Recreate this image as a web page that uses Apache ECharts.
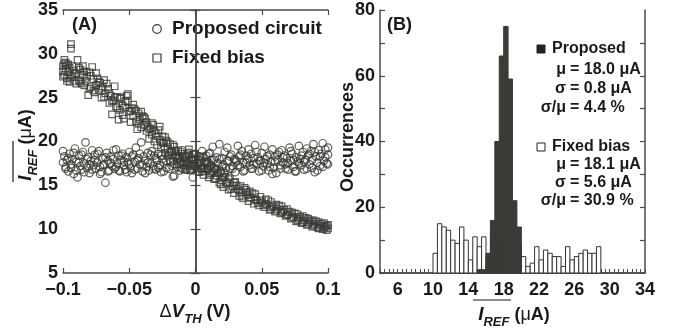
<!DOCTYPE html>
<html><head><meta charset="utf-8">
<script src="https://cdn.jsdelivr.net/npm/echarts@6/dist/echarts.min.js"></script>
<style>html,body{margin:0;padding:0;background:#fff}#c{width:680px;height:329px}</style>
</head><body><div id="c"></div>
<script>
// ---------- Panel A data ----------
const xTickValuesA = [-0.1, -0.05, 0, 0.05, 0.1];
const xTickLabelsA = ['\u22120.1', '\u22120.05', '0', '0.05', '0.1'];
const yTickValuesA = [5, 10, 15, 20, 25, 30, 35];

const proposedPoints = [
[-0.100,17.6],[-0.099,18.3],[-0.098,17.1],[-0.097,17.9],[-0.096,16.6],[-0.095,18.6],[-0.094,17.4],[-0.093,18.0],[-0.092,16.3],[-0.091,19.2],
[-0.090,17.7],[-0.089,15.9],[-0.088,18.4],[-0.087,17.2],[-0.086,16.8],[-0.085,18.8],[-0.084,17.5],[-0.083,19.9],[-0.082,17.0],[-0.081,18.2],
[-0.080,16.4],[-0.079,17.8],[-0.078,19.0],[-0.077,17.3],[-0.076,18.5],[-0.075,16.9],[-0.074,17.6],[-0.073,18.9],[-0.072,17.1],[-0.071,16.5],
[-0.070,18.1],[-0.069,17.4],[-0.068,15.3],[-0.067,18.7],[-0.066,17.8],[-0.065,16.7],[-0.064,18.3],[-0.063,17.2],[-0.062,18.0],[-0.061,16.9],
[-0.060,19.1],[-0.059,17.5],[-0.058,18.4],[-0.057,16.6],[-0.056,17.9],[-0.055,18.6],[-0.054,17.3],[-0.053,16.8],[-0.052,18.2],[-0.051,17.6],
[-0.050,18.8],[-0.049,17.0],[-0.048,16.4],[-0.047,18.5],[-0.046,17.7],[-0.045,19.3],[-0.044,16.9],[-0.043,18.1],[-0.042,17.4],[-0.041,19.9],
[-0.040,16.6],[-0.039,18.3],[-0.038,17.8],[-0.037,17.1],[-0.036,18.7],[-0.035,16.7],[-0.034,17.5],[-0.033,18.9],[-0.032,17.2],[-0.031,18.4],
[-0.030,16.8],[-0.029,17.9],[-0.028,18.6],[-0.027,17.3],[-0.026,16.5],[-0.025,18.0],[-0.024,17.6],[-0.023,19.2],[-0.022,17.0],[-0.021,18.3],
[-0.020,16.9],[-0.019,17.7],[-0.018,18.8],[-0.017,16.0],[-0.016,17.4],[-0.015,18.5],[-0.014,17.1],[-0.013,18.1],[-0.012,16.7],[-0.011,17.8],
[-0.010,19.0],[-0.009,17.3],[-0.008,18.4],[-0.007,16.8],[-0.006,17.6],[-0.005,18.7],[-0.004,17.2],[-0.003,18.2],[-0.002,15.9],[-0.001,17.9],
[0.000,18.6],[0.001,17.5],[0.002,16.6],[0.003,18.3],[0.004,17.8],[0.005,18.9],[0.006,17.0],[0.007,17.7],[0.008,18.4],[0.009,16.9],
[0.010,17.6],[0.011,18.7],[0.012,17.3],[0.013,19.4],[0.014,17.9],[0.015,16.8],[0.016,18.2],[0.017,17.5],[0.018,19.7],[0.019,16.6],
[0.020,18.1],[0.021,17.4],[0.022,18.8],[0.023,17.0],[0.024,19.3],[0.025,17.8],[0.026,16.9],[0.027,18.5],[0.028,17.2],[0.029,18.0],
[0.030,16.5],[0.031,17.7],[0.032,19.5],[0.033,18.3],[0.034,17.1],[0.035,18.9],[0.036,17.6],[0.037,16.7],[0.038,18.4],[0.039,17.9],
[0.040,19.1],[0.041,17.3],[0.042,18.6],[0.043,16.9],[0.044,18.1],[0.045,19.6],[0.046,17.5],[0.047,18.2],[0.048,16.6],[0.049,17.8],
[0.050,18.7],[0.051,17.2],[0.052,19.4],[0.053,18.0],[0.054,17.4],[0.055,16.7],[0.056,18.5],[0.057,17.7],[0.058,19.1],[0.059,17.0],
[0.060,18.3],[0.061,16.4],[0.062,17.9],[0.063,18.8],[0.064,17.3],[0.065,19.0],[0.066,17.6],[0.067,18.4],[0.068,16.9],[0.069,18.1],
[0.070,17.5],[0.071,19.3],[0.072,17.8],[0.073,18.6],[0.074,17.1],[0.075,16.6],[0.076,18.2],[0.077,17.7],[0.078,19.5],[0.079,18.0],
[0.080,17.3],[0.081,18.8],[0.082,16.8],[0.083,17.9],[0.084,19.2],[0.085,18.4],[0.086,17.4],[0.087,18.9],[0.088,17.0],[0.089,19.7],
[0.090,16.5],[0.091,18.3],[0.092,17.6],[0.093,19.0],[0.094,17.2],[0.095,18.6],[0.096,19.8],[0.097,17.8],[0.098,18.2],[0.099,17.5],
[0.100,18.5],[0.100,19.3],
[-0.100,18.9],[-0.098,16.9],[-0.096,18.1],[-0.094,17.0],[-0.092,18.7],[-0.090,16.7],[-0.088,17.6],[-0.086,18.5],[-0.084,16.5],[-0.082,18.0],
[-0.080,17.4],[-0.078,16.8],[-0.076,17.9],[-0.074,18.6],[-0.072,16.3],[-0.070,17.3],[-0.068,18.2],[-0.066,16.6],[-0.064,17.5],[-0.062,19.0],
[-0.060,17.1],[-0.058,16.7],[-0.056,18.4],[-0.054,17.7],[-0.052,16.5],[-0.050,17.4],[-0.048,18.3],[-0.046,16.8],[-0.044,17.9],[-0.042,18.6],
[-0.040,17.3],[-0.038,16.4],[-0.036,17.6],[-0.034,18.5],[-0.032,16.9],[-0.030,18.1],[-0.028,17.0],[-0.026,18.4],[-0.024,16.6],[-0.022,17.8],
[-0.020,18.7],[-0.018,17.2],[-0.016,16.1],[-0.014,18.0],[-0.012,17.5],[-0.010,16.9],[-0.008,17.8],[-0.006,18.5],[-0.004,16.8],[-0.002,17.4],
[0.000,17.1],[0.002,18.0],[0.004,16.9],[0.006,18.2],[0.008,17.4],[0.010,18.6],[0.012,17.9],[0.014,17.0],[0.016,16.8],[0.018,18.0],
[0.020,17.1],[0.022,16.4],[0.024,17.8],[0.026,18.3],[0.028,16.9],[0.030,17.9],[0.032,17.3],[0.034,18.5],[0.036,16.6],[0.038,17.6],
[0.040,18.1],[0.042,16.9],[0.044,17.4],[0.046,18.8],[0.048,17.8],[0.050,16.7],[0.052,17.6],[0.054,18.3],[0.056,17.1],[0.058,16.3],
[0.060,17.7],[0.062,18.5],[0.064,16.9],[0.066,18.2],[0.068,17.4],[0.070,16.8],[0.072,18.9],[0.074,17.9],[0.076,16.6],[0.078,17.5],
[0.080,18.4],[0.082,17.7],[0.084,16.9],[0.086,18.6],[0.088,17.9],[0.090,18.8],[0.092,16.7],[0.094,18.3],[0.096,17.1],[0.098,19.1],[0.100,17.4]
];

const fixedPoints = [
[-0.100,28.6],[-0.100,28.0],[-0.099,28.9],[-0.099,27.6],[-0.098,28.3],[-0.098,29.0],[-0.097,27.2],[-0.097,28.7],[-0.096,27.9],[-0.095,26.8],
[-0.095,28.4],[-0.094,31.1],[-0.094,30.6],[-0.093,27.5],[-0.092,28.1],[-0.091,26.9],[-0.090,27.8],[-0.089,29.3],[-0.088,27.0],[-0.087,28.2],
[-0.086,26.6],[-0.085,27.6],[-0.084,28.0],[-0.083,26.9],[-0.082,27.4],[-0.081,25.3],[-0.080,27.9],[-0.079,26.2],[-0.078,28.5],[-0.077,27.1],
[-0.076,25.6],[-0.075,26.4],[-0.074,27.2],[-0.073,25.9],[-0.072,26.7],[-0.071,25.0],[-0.070,26.3],[-0.069,27.0],[-0.068,25.5],[-0.066,26.0],
[-0.065,24.4],[-0.064,25.2],[-0.063,23.1],[-0.062,24.7],[-0.061,26.3],[-0.060,24.0],[-0.059,25.1],[-0.058,22.5],[-0.057,23.6],[-0.056,25.0],
[-0.055,24.1],[-0.054,22.6],[-0.053,23.9],[-0.052,25.2],[-0.051,24.5],[-0.050,23.4],[-0.049,22.2],[-0.048,23.8],[-0.047,22.9],[-0.046,23.7],
[-0.045,22.3],[-0.044,21.4],[-0.043,23.2],[-0.042,22.5],[-0.041,21.6],[-0.040,22.9],[-0.039,21.9],[-0.038,22.6],[-0.037,21.2],[-0.036,21.7],
[-0.035,20.3],[-0.034,21.5],[-0.033,20.8],[-0.032,21.9],[-0.031,20.0],[-0.030,20.9],[-0.029,19.6],[-0.028,21.3],[-0.027,20.2],[-0.026,19.3],
[-0.025,20.6],[-0.024,19.8],[-0.023,18.7],[-0.022,20.1],[-0.021,19.2],[-0.020,18.4],[-0.019,19.7],[-0.018,18.9],[-0.017,17.8],[-0.016,19.4],
[-0.015,18.3],[-0.014,17.4],[-0.013,19.0],[-0.012,18.1],[-0.011,17.0],[-0.010,18.6],[-0.009,17.6],[-0.008,16.8],[-0.007,18.2],[-0.006,17.3],
[-0.005,19.1],[-0.004,16.7],[-0.003,17.9],[-0.002,18.5],[-0.001,17.2],[0.000,18.0],[0.002,17.5],[0.003,16.5],[0.004,18.3],[0.005,17.0],
[0.006,16.2],[0.008,17.7],[0.009,16.8],[0.010,15.9],[0.011,17.2],[0.012,16.4],[0.014,15.7],[0.015,16.9],[0.016,16.1],[0.018,15.3],
[0.019,16.5],[0.020,15.6],[0.021,14.8],[0.022,16.0],[0.024,15.2],[0.025,14.5],[0.026,15.7],[0.028,14.9],[0.029,14.1],[0.030,15.4],
[0.031,14.6],[0.033,13.8],[0.034,14.9],[0.035,14.2],[0.036,13.5],[0.038,14.5],[0.039,13.9],[0.040,13.2],[0.041,14.3],[0.042,13.6],
[0.044,12.9],[0.045,14.0],[0.046,13.3],[0.048,12.7],[0.049,13.7],[0.050,13.1],[0.052,12.5],[0.053,13.4],[0.054,12.8],[0.056,12.2],
[0.057,13.1],[0.058,12.5],[0.060,12.0],[0.061,12.8],[0.062,12.3],[0.064,11.8],[0.065,12.6],[0.066,12.0],[0.068,11.5],[0.069,12.3],
[0.070,11.7],[0.072,11.2],[0.073,11.9],[0.074,11.4],[0.076,10.9],[0.077,11.7],[0.078,11.2],[0.080,10.7],[0.081,11.5],[0.082,11.0],
[0.084,10.5],[0.085,11.2],[0.086,10.8],[0.088,10.3],[0.089,11.0],[0.090,10.6],[0.092,10.2],[0.093,10.8],[0.094,10.4],[0.096,10.0],
[0.097,10.7],[0.098,10.3],[0.099,9.9],[0.100,10.5],[0.100,10.1],
[-0.100,27.4],[-0.099,29.3],[-0.097,26.9],[-0.096,28.8],[-0.094,27.3],[-0.093,28.6],[-0.091,27.7],[-0.090,26.6],[-0.088,28.4],[-0.087,26.8],
[-0.085,28.6],[-0.084,26.4],[-0.082,27.9],[-0.080,26.0],[-0.079,27.5],[-0.077,25.8],[-0.075,27.8],[-0.073,26.8],[-0.071,26.1],[-0.069,25.1],
[-0.067,26.6],[-0.065,25.5],[-0.063,24.6],[-0.061,25.0],[-0.059,23.8],[-0.057,24.9],[-0.055,23.0],[-0.053,24.6],[-0.051,25.4],[-0.049,23.5],
[-0.047,24.2],[-0.045,23.5],[-0.043,22.0],[-0.041,23.4],[-0.039,22.8],[-0.037,22.2],[-0.035,21.4],[-0.033,22.1],[-0.031,21.2],[-0.029,20.6],
[-0.027,21.7],[-0.025,19.9],[-0.023,20.5],[-0.021,19.9],[-0.019,18.8],[-0.017,19.6],[-0.015,18.9],[-0.013,18.4],[-0.011,18.8],[-0.009,18.3],
[-0.007,17.5],[-0.005,17.8],[-0.003,16.9],[-0.001,18.6],[0.001,16.9],[0.003,17.6],[0.005,16.6],[0.007,16.9],[0.009,17.5],[0.011,16.2],
[0.013,16.6],[0.015,15.8],[0.017,16.4],[0.019,15.1],[0.021,15.9],[0.023,15.4],[0.025,15.9],[0.027,14.6],[0.029,15.3],[0.031,15.0],
[0.033,14.4],[0.035,13.7],[0.037,14.7],[0.039,14.2],[0.041,13.6],[0.043,14.1],[0.045,13.4],[0.047,13.0],[0.049,13.3],[0.051,12.7],
[0.053,12.9],[0.055,13.3],[0.057,12.3],[0.059,12.6],[0.061,12.1],[0.063,12.7],[0.065,11.9],[0.067,12.2],[0.069,11.6],[0.071,12.0],
[0.073,11.3],[0.075,11.8],[0.077,11.0],[0.079,11.4],[0.081,10.8],[0.083,11.3],[0.085,10.6],[0.087,11.0],[0.089,10.4],[0.091,10.9],
[0.093,10.1],[0.095,10.6],[0.097,10.2],[0.099,10.4]
];

// ---------- Panel B data ----------
const binLeft = [4,4.5,5,5.5,6,6.5,7,7.5,8,8.5,9,9.5,10,10.5,11,11.5,12,12.5,13,13.5,14,14.5,15,15.5,16,16.5,17,17.5,18,18.5,19,19.5,
                 20,20.5,21,21.5,22,22.5,23,23.5,24,24.5,25,25.5,26,26.5,27,27.5,28,28.5,29,29.5,30,30.5,31,31.5,32,32.5,33,33.5];
const fixedCounts = [0,0,0,0,0,0,0,0,0,0,0,0,
                     6,15,14,13,10,9,14,10,4,11,8,11,
                     5,12,10,11,10,12,9,9,
                     5,2,3,8,4,7,6,5,5,2,8,4,5,6,7,6,6,8,
                     0,0,0,0,0,0,0,0,0,0];
const proposedCounts = [0,0,0,0,0,0,0,0,0,0,0,0,0,0,0,0,0,0,0,0,0,0,
                        1,1,6,16,40,66,75,59,22,14,
                        0,0,0,0,0,0,0,0,0,0,0,0,0,0,0,0,0,0,0,0,0,0,0,0,0,0,0,0];
const binWidth = 0.5;
const xTickValuesB = [6, 10, 14, 18, 22, 26, 30, 34];
const yTickValuesB = [0, 20, 40, 60, 80];
const yMinorTicksB = [10, 20, 30, 40, 50, 60, 70];

const statsProposed = [['\u03bc', '= 18.0 \u03bcA'], ['\u03c3', '= 0.8 \u03bcA'], ['\u03c3/\u03bc', '= 4.4 %']];
const statsFixed    = [['\u03bc', '= 18.1 \u03bcA'], ['\u03c3', '= 5.6 \u03bcA'], ['\u03c3/\u03bc', '= 30.9 %']];

// ---------- styling ----------
const FONT = '"Liberation Sans", Arial, Helvetica, sans-serif';
const INK = '#1a1a1a';
const MARK = '#3a3a36';
const AXIS = '#4a4a4a';

function tickAxis(extra) {
  return Object.assign({
    axisLine: { show: true, lineStyle: { color: AXIS, width: 1.5 } },
    axisTick: { show: true, inside: true, length: 5, lineStyle: { color: AXIS, width: 1.2 } },
    axisLabel: { show: false },
    splitLine: { show: false }
  }, extra);
}
const labelStyle = { color: INK, fontFamily: FONT, fontWeight: 'bold', fontSize: 18 };

const chart = echarts.init(document.getElementById('c'), null, { renderer: 'canvas' });

function histItem(fill, stroke) {
  return function (params, api) {
    const x0 = api.value(0), cnt = api.value(1);
    if (!cnt) return null;
    const pTop = api.coord([x0, cnt]);
    const pBot = api.coord([x0 + binWidth, 0]);
    return {
      type: 'rect',
      shape: { x: pTop[0], y: pTop[1], width: pBot[0] - pTop[0], height: pBot[1] - pTop[1] },
      style: { fill: fill, stroke: stroke, lineWidth: 1 }
    };
  };
}

const option = {
  animation: false,
  backgroundColor: '#fff',
  grid: [
    { left: 63, top: 10, width: 265, height: 263 },
    { left: 380, top: 10, width: 265, height: 263 }
  ],
  xAxis: [
    tickAxis({ gridIndex: 0, type: 'value', position: 'bottom', min: -0.1, max: 0.1, interval: 0.05,
      axisLabel: Object.assign({ show: true, margin: 8, customValues: xTickValuesA,
        formatter: v => { const i = xTickValuesA.findIndex(t => Math.abs(t - v) < 1e-9); return i >= 0 ? xTickLabelsA[i] : ''; } }, labelStyle) }),
    tickAxis({ gridIndex: 0, type: 'value', position: 'top', min: -0.1, max: 0.1, interval: 0.05 }),
    tickAxis({ gridIndex: 1, type: 'value', position: 'bottom', min: 4, max: 34, interval: 0.5,
      axisTick: { show: true, inside: true, length: 4, lineStyle: { color: AXIS, width: 1 } },
      axisLabel: Object.assign({ show: true, margin: 8, customValues: xTickValuesB }, labelStyle) }),
    tickAxis({ gridIndex: 1, type: 'value', position: 'top', min: 4, max: 34, interval: 0.5, axisTick: { show: false } })
  ],
  yAxis: [
    tickAxis({ gridIndex: 0, type: 'value', position: 'left', min: 5, max: 35, interval: 5,
      axisLabel: Object.assign({ show: true, margin: 5, customValues: yTickValuesA }, labelStyle) }),
    tickAxis({ gridIndex: 0, type: 'value', position: 'right', min: 5, max: 35, interval: 5 }),
    tickAxis({ gridIndex: 1, type: 'value', position: 'left', min: 0, max: 80, interval: 10,
      axisLabel: Object.assign({ show: true, margin: 5, customValues: yTickValuesB }, labelStyle) }),
    tickAxis({ gridIndex: 1, type: 'value', position: 'right', min: 0, max: 80, interval: 10,
      axisTick: { show: true, inside: true, length: 5, customValues: yMinorTicksB, lineStyle: { color: AXIS, width: 1.2 } } })
  ],
  series: [
    { type: 'scatter', xAxisIndex: 0, yAxisIndex: 0, data: fixedPoints, symbol: 'rect', symbolSize: 6.5,
      itemStyle: { color: 'rgba(0,0,0,0)', borderColor: MARK, borderWidth: 1.2 }, silent: true },
    { type: 'scatter', xAxisIndex: 0, yAxisIndex: 0, data: proposedPoints, symbol: 'circle', symbolSize: 7.5,
      itemStyle: { color: 'rgba(0,0,0,0)', borderColor: MARK, borderWidth: 1.2 }, silent: true },
    { type: 'custom', xAxisIndex: 2, yAxisIndex: 2, renderItem: histItem('#fff', '#333'),
      data: binLeft.map((b, i) => [b, fixedCounts[i]]), encode: { x: 0, y: 1 }, silent: true, z: 3 },
    { type: 'custom', xAxisIndex: 2, yAxisIndex: 2, renderItem: histItem(MARK, MARK),
      data: binLeft.map((b, i) => [b, proposedCounts[i]]), encode: { x: 0, y: 1 }, silent: true, z: 4 }
  ],
  graphic: []
};

const g = option.graphic;
function txt(x, y, text, size, align, extra) {
  g.push(Object.assign({ type: 'text', x: x, y: y, silent: true,
    style: { text: text, fill: INK, font: 'bold ' + size + 'px ' + FONT, align: align || 'left', verticalAlign: 'middle' } }, extra || {}));
}
// panel labels
txt(84.5, 25, '(A)', 18, 'center');
txt(399.5, 25, '(B)', 18, 'center');
// panel A legend
g.push({ type: 'circle', shape: { cx: 157, cy: 29, r: 4.3 }, style: { fill: 'none', stroke: MARK, lineWidth: 1.2 }, silent: true });
g.push({ type: 'rect', shape: { x: 153, y: 54, width: 8, height: 8 }, style: { fill: 'none', stroke: MARK, lineWidth: 1.2 }, silent: true });
txt(172, 29, 'Proposed circuit', 19);
txt(172, 58, 'Fixed bias', 19);
// panel B legend + stats
g.push({ type: 'rect', shape: { x: 537, y: 45, width: 8, height: 8 }, style: { fill: '#222', stroke: '#222', lineWidth: 1 }, silent: true });
g.push({ type: 'rect', shape: { x: 537, y: 143, width: 8, height: 8 }, style: { fill: '#fff', stroke: '#222', lineWidth: 1 }, silent: true });
txt(552, 49, 'Proposed', 16);
txt(552, 147, 'Fixed bias', 16);
const statYsP = [70, 89, 108], statYsF = [165, 183, 201];
statsProposed.forEach((s, i) => { txt(566, statYsP[i], s[0], 16, 'right'); txt(570, statYsP[i], s[1], 16, 'left'); });
statsFixed.forEach((s, i) => { txt(566, statYsF[i], s[0], 16, 'right'); txt(570, statYsF[i], s[1], 16, 'left'); });

// axis names with subscripts
const richMain = {
  d: { fontFamily: FONT, fontSize: 18, fontWeight: 'normal', lineHeight: 28, verticalAlign: 'middle', color: INK },
  v: { fontFamily: FONT, fontSize: 19, fontWeight: 'bold', fontStyle: 'italic', lineHeight: 28, verticalAlign: 'middle', color: INK },
  s: { fontFamily: FONT, fontSize: 13, fontWeight: 'bold', fontStyle: 'italic', lineHeight: 15, verticalAlign: 'bottom', color: INK },
  n: { fontFamily: FONT, fontSize: 18, fontWeight: 'bold', lineHeight: 28, verticalAlign: 'middle', color: INK },
  u: { fontFamily: FONT, fontSize: 18, fontWeight: 'normal', lineHeight: 28, verticalAlign: 'middle', color: INK }
};
function richText(x, y, text, rotation) {
  g.push({ type: 'text', x: x, y: y, rotation: rotation || 0, silent: true,
    style: { text: text, rich: richMain, align: 'center', verticalAlign: 'middle', fill: INK } });
}
richText(195, 312, '{d|\u0394}{v|V}{s|TH}{n| (V)}');
richText(514, 315, '{v|I}{s|REF}{n| (}{u|\u03bc}{n|A)}');
richText(26, 145, '{v|I}{s|REF}{n| (}{u|\u03bc}{n|A)}', Math.PI / 2);
richText(348, 137, '{n|Occurrences}', Math.PI / 2);
// overlines
g.push({ type: 'line', shape: { x1: 473, y1: 300, x2: 511, y2: 300 }, style: { stroke: INK, lineWidth: 1.2 }, silent: true });
g.push({ type: 'line', shape: { x1: 13, y1: 141, x2: 13, y2: 182 }, style: { stroke: INK, lineWidth: 1.2 }, silent: true });

chart.setOption(option);
</script>
</body></html>
